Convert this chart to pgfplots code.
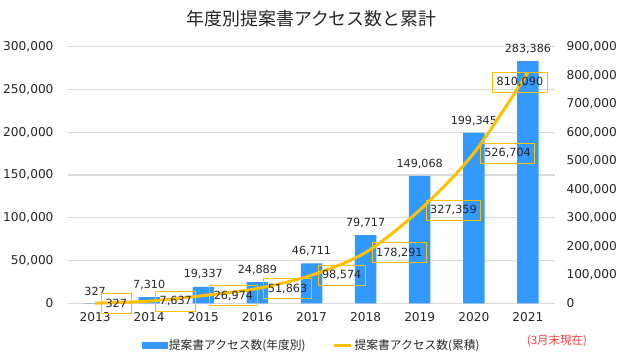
\documentclass[border=0pt]{standalone}
\usepackage{pgfplots}
\pgfplotsset{compat=1.18}
\usepackage{pgfplotstable}
\usepackage{fontspec}
\setmainfont{Noto Sans CJK JP}
\newfontfamily\numfont{DejaVu Sans}
\definecolor{barblue}{HTML}{3399FF}
\definecolor{lineyel}{HTML}{FFC000}
\definecolor{gridgray}{HTML}{D9D9D9}
\definecolor{notered}{HTML}{FF4040}
\definecolor{txt}{HTML}{262626}

\pgfplotstableread{
x y lab
0 327 327
1 7310 7,310
2 19337 19,337
3 24889 24,889
4 46711 46,711
5 79717 79,717
6 149068 149,068
7 199345 199,345
8 283386 283,386
}\bars

\pgfplotstableread{
x y lab
0 327 327
1 7637 7,637
2 26974 26,974
3 51863 51,863
4 98574 98,574
5 178291 178,291
6 327359 327,359
7 526704 526,704
8 810090 810,090
}\cum

\pgfplotsset{base/.style={
  scale only axis, width=487bp, height=256.5bp,
  xmin=-0.5, xmax=8.5, clip=false,
  axis line style={draw=none}, major tick length=0pt,
  tick label style={font=\numfont\fontsize{12.2}{14}\selectfont, text=txt},
  scaled y ticks=false,
  /pgf/number format/fixed,
  /pgf/number format/precision=0,
  /pgf/number format/1000 sep={,},
  /pgf/number format/assume math mode=true,
}}

\begin{document}
\begin{tikzpicture}
\useasboundingbox (-68bp,-54.7bp) rectangle (552bp,303.3bp);
\begin{axis}[base,
  ymin=0, ymax=300000, ytick={0,50000,...,300000},
  ymajorgrids, grid style={gridgray, line width=1.2bp},
  xtick={0,...,8}, xticklabels={2013,2014,2015,2016,2017,2018,2019,2020,2021},
  yticklabel style={xshift=-11bp},
  xticklabel style={yshift=-6bp},
  ybar, bar width=21.5bp,
]
\addplot[fill=barblue, draw=none, nodes near coords, point meta=explicit symbolic,
  nodes near coords style={font=\numfont\fontsize{11.2}{13}\selectfont, text=txt, anchor=south, yshift=4bp}]
  table[x=x,y=y,meta=lab]{\bars};
\node[font=\fontsize{18}{21}\selectfont, text=txt] at (rel axis cs:0.5,1.108) {年度別提案書アクセス数と累計};
\node[font=\fontsize{11.5}{14}\selectfont, text=notered] at (rel axis cs:1.004,-0.147) {(3月末現在)};
\end{axis}
\begin{axis}[base,
  axis y line*=right, xtick=\empty,
  ymin=0, ymax=900000, ytick={0,100000,...,900000},
  yticklabel style={xshift=8bp},
  legend style={draw=none, fill=none, at={(0.5,-0.163)}, anchor=center,
    font=\fontsize{11.8}{14}\selectfont, text=txt,
    /tikz/every even column/.append style={column sep=25bp}},
  legend columns=2,
]
\addlegendimage{legend image code/.code={\fill[barblue] (0bp,-3bp) rectangle (25bp,3bp);}}
\addlegendentry{提案書アクセス数(年度別)}
\addplot[lineyel, line width=3bp, smooth, tension=0.5] table[x=x,y=y]{\cum};
\addlegendentry{提案書アクセス数(累積)}
\addplot[draw=none, forget plot, nodes near coords, point meta=explicit symbolic,
  skip coords between index={8}{9},
  nodes near coords style={draw=lineyel, line width=1bp, anchor=west, xshift=6bp,
    inner xsep=4bp, minimum height=20bp, font=\numfont\fontsize{11.3}{13}\selectfont, text=txt}]
  table[x=x,y=y,meta=lab]{\cum};
\addplot[draw=none, forget plot, nodes near coords, point meta=explicit symbolic,
  skip coords between index={0}{8},
  nodes near coords style={draw=lineyel, line width=1bp, anchor=center, xshift=-8bp, yshift=-10bp,
    inner xsep=4bp, minimum height=20bp, font=\numfont\fontsize{11.3}{13}\selectfont, text=txt}]
  table[x=x,y=y,meta=lab]{\cum};
\end{axis}
\end{tikzpicture}
\end{document}
